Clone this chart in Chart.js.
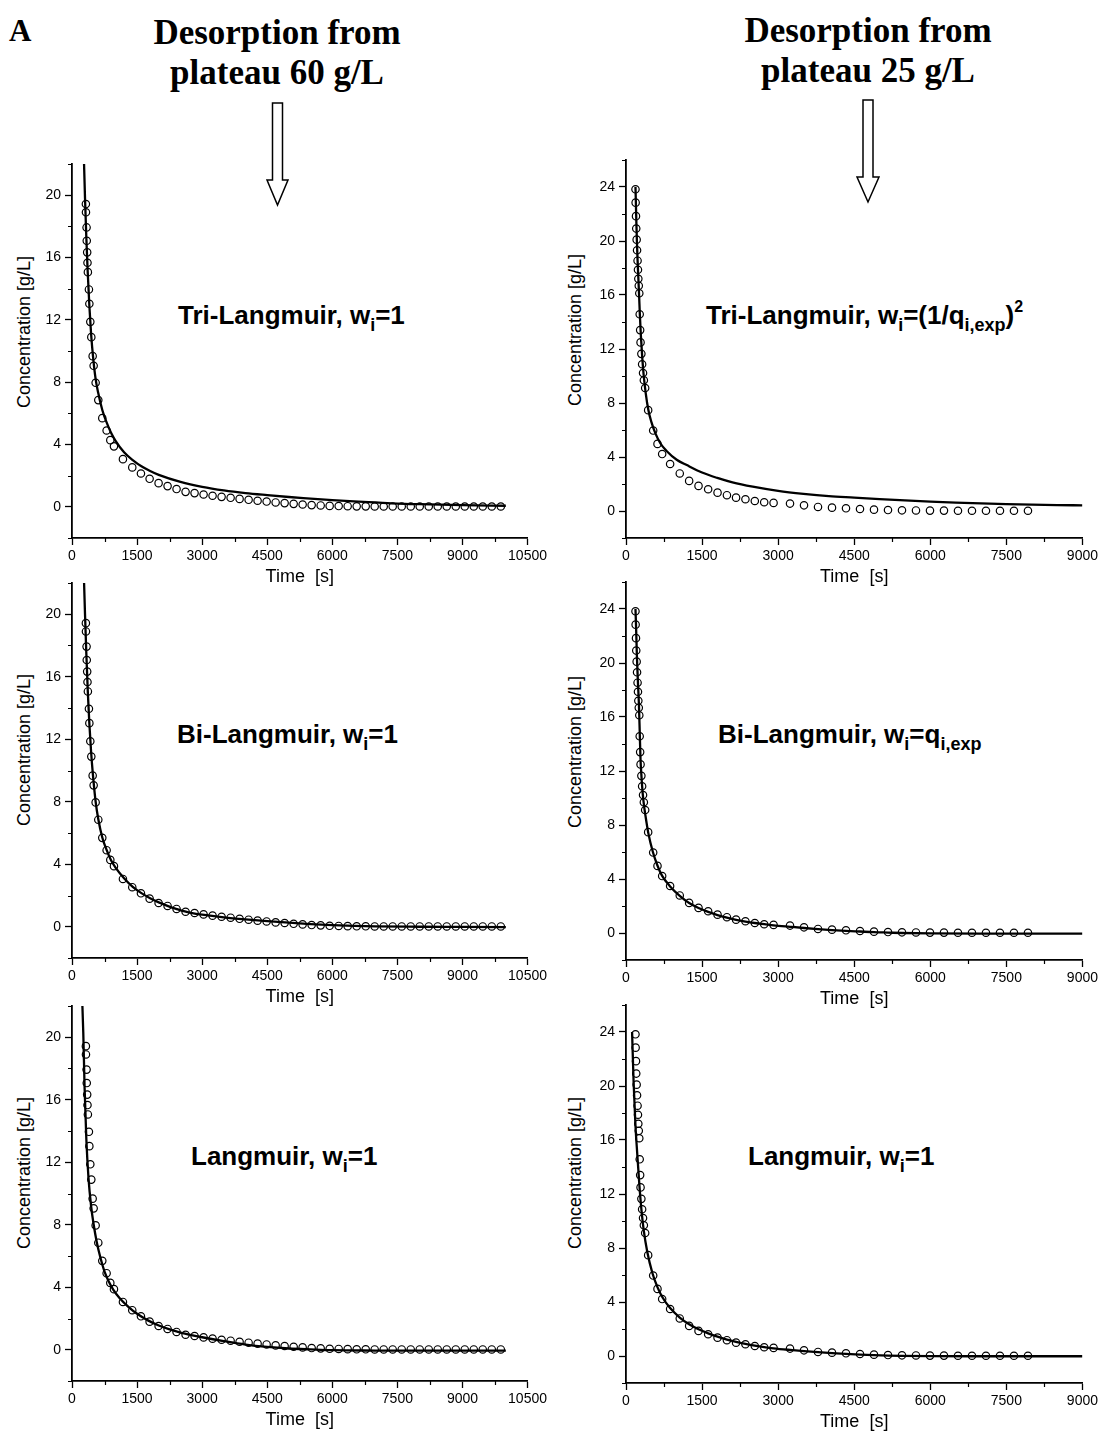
<!DOCTYPE html>
<html>
<head>
<meta charset="utf-8">
<script src="https://cdn.jsdelivr.net/npm/chart.js@4.4.1/dist/chart.umd.min.js"></script>
<style>
  body { margin: 0; width: 1101px; height: 1434px; background: #fff; position: relative; overflow: hidden;
         font-family: 'Liberation Sans', Arial, sans-serif; color: #000; }
  canvas { position: absolute; }
  .head { position: absolute; font-family: 'Liberation Serif', 'Times New Roman', serif; font-weight: bold;
          text-align: center; white-space: nowrap; }
  .fit { position: absolute; font-weight: bold; font-size: 26px; line-height: 26px; white-space: nowrap; }
  .fit sub { font-size: 18px; vertical-align: baseline; position: relative; top: 7px; }
  .fit sup { font-size: 16px; vertical-align: baseline; position: relative; top: -12px; }
  .ytitle { position: absolute; font-size: 18px; white-space: nowrap;
            transform: translate(-50%, -50%) rotate(-90deg); }
  svg { position: absolute; left: 0; top: 0; }
</style>
</head>
<body>

<div class="head" style="left:9px; top:15px; font-size:31px; line-height:31px;">A</div>
<div class="head" style="left:97px; width:360px; top:13px; font-size:35px; line-height:40px;">Desorption from<br>plateau 60 g/L</div>
<div class="head" style="left:688px; width:360px; top:11px; font-size:35px; line-height:40px;">Desorption from<br>plateau 25 g/L</div>

<svg width="1101" height="220">
  <polygon points="272.5,103 282.5,103 282.5,180 288,180 277.5,205 267,180 272.5,180" fill="#fff" stroke="#000" stroke-width="1.5"/>
  <polygon points="863,100 873,100 873,177 879,177 868,202 857,177 863,177" fill="#fff" stroke="#000" stroke-width="1.5"/>
</svg>

<div class="fit" style="left:178px; top:302px;">Tri-Langmuir, w<sub>i</sub>=1</div>
<div class="fit" style="left:706px; top:302px;">Tri-Langmuir, w<sub>i</sub>=(1/q<sub>i,exp</sub>)<sup>2</sup></div>
<div class="fit" style="left:177px; top:721px;">Bi-Langmuir, w<sub>i</sub>=1</div>
<div class="fit" style="left:718px; top:721px;">Bi-Langmuir, w<sub>i</sub>=q<sub>i,exp</sub></div>
<div class="fit" style="left:191px; top:1143px;">Langmuir, w<sub>i</sub>=1</div>
<div class="fit" style="left:748px; top:1143px;">Langmuir, w<sub>i</sub>=1</div>

<div class="ytitle" style="left:23.5px; top:332px;">Concentration  [g/L]</div>
<div class="ytitle" style="left:23.5px; top:750px;">Concentration  [g/L]</div>
<div class="ytitle" style="left:23.5px; top:1173px;">Concentration  [g/L]</div>
<div class="ytitle" style="left:575px; top:330px;">Concentration  [g/L]</div>
<div class="ytitle" style="left:575px; top:752px;">Concentration  [g/L]</div>
<div class="ytitle" style="left:575px; top:1173px;">Concentration  [g/L]</div>

<script>
// --- measured desorption profile, plateau 60 g/L (time s, concentration g/L)
const exp60Time = [320, 322, 336, 340, 350, 357, 366, 390, 400, 422, 445, 476, 499, 545, 606, 698, 798, 883, 967,
  1174, 1389, 1589, 1789, 1996, 2203, 2410, 2618, 2825, 3033, 3240, 3448, 3656, 3863, 4071, 4278, 4486, 4694,
  4901, 5109, 5316, 5524, 5732, 5939, 6147, 6354, 6562, 6770, 6977, 7185, 7392, 7600, 7808, 8015, 8223, 8430,
  8638, 8846, 9053, 9261, 9468, 9676, 9884];
const exp60Conc = [19.43, 18.9, 17.93, 17.07, 16.33, 15.66, 15.06, 13.95, 13.03, 11.87, 10.89, 9.67, 9.05, 7.96,
  6.85, 5.69, 4.9, 4.28, 3.88, 3.06, 2.53, 2.14, 1.8, 1.52, 1.33, 1.14, 0.96, 0.88, 0.79, 0.71, 0.64, 0.58, 0.51,
  0.45, 0.39, 0.34, 0.28, 0.24, 0.19, 0.15, 0.11, 0.09, 0.06, 0.05, 0.04, 0.03, 0.03, 0.02, 0.02, 0.02, 0.02,
  0.02, 0.02, 0.02, 0.02, 0.02, 0.02, 0.02, 0.02, 0.02, 0.02, 0.02];

// --- measured desorption profile, plateau 25 g/L
const exp25Time = [187, 190, 197, 202, 210, 218, 228, 236, 243, 252, 262, 270, 279, 287, 303, 318, 336, 352, 378,
  437, 536, 621, 713, 870, 1060, 1245, 1430, 1620, 1805, 1990, 2170, 2355, 2540, 2725, 2910, 3234, 3510, 3786,
  4062, 4338, 4614, 4890, 5166, 5442, 5718, 5994, 6270, 6546, 6822, 7098, 7374, 7650, 7926];
const exp25Conc = [23.83, 22.84, 21.84, 20.92, 20.1, 19.31, 18.54, 17.87, 17.2, 16.68, 16.13, 14.57, 13.4, 12.49,
  11.64, 10.87, 10.22, 9.68, 9.11, 7.47, 5.96, 4.97, 4.22, 3.48, 2.78, 2.23, 1.86, 1.61, 1.36, 1.17, 0.99, 0.87,
  0.74, 0.65, 0.6, 0.55, 0.42, 0.3, 0.25, 0.2, 0.15, 0.1, 0.07, 0.05, 0.04, 0.03, 0.03, 0.02, 0.02, 0.02, 0.02,
  0.02, 0.02];

// --- fitted isotherm curves, plateau 60 g/L
const tri60Time = [272, 300, 330, 360, 400, 440, 490, 545, 605, 700, 800, 900, 1000, 1200, 1400, 1600, 1800, 2000,
  2500, 3000, 3500, 4000, 4500, 5000, 5500, 6000, 6500, 7000, 7500, 8000, 9000, 10000];
const tri60Conc = [22.6, 19.8, 17.3, 15.2, 12.9, 11.1, 9.5, 8.2, 7.3, 6.2, 5.4, 4.75, 4.25, 3.5, 3.0, 2.6, 2.3, 2.05,
  1.6, 1.28, 1.05, 0.88, 0.75, 0.63, 0.53, 0.43, 0.35, 0.28, 0.21, 0.17, 0.11, 0.07];

const bi60Time = [272, 300, 330, 365, 400, 440, 480, 545, 605, 700, 800, 900, 1000, 1200, 1400, 1600, 1800, 2000,
  2200, 2400, 2600, 2800, 3000, 3500, 4000, 4500, 5000, 5500, 6000, 6500, 7000, 8000, 9000, 10000];
const bi60Conc = [22.6, 20, 17.5, 15, 13, 11.2, 9.8, 8.0, 6.9, 5.7, 4.9, 4.25, 3.8, 3.1, 2.55, 2.15, 1.83, 1.56,
  1.34, 1.15, 0.98, 0.86, 0.77, 0.6, 0.47, 0.36, 0.26, 0.17, 0.1, 0.05, 0.02, 0.0, -0.01, -0.02];

const lang60Time = [232, 260, 290, 330, 380, 440, 500, 570, 650, 750, 850, 950, 1100, 1300, 1500, 1750, 2000, 2250,
  2500, 2750, 3000, 3500, 4000, 4500, 5000, 5500, 6000, 7000, 8000, 9000, 10000];
const lang60Conc = [22.6, 20.3, 16.8, 13.5, 11, 9.2, 8.0, 6.9, 5.95, 5.0, 4.35, 3.85, 3.3, 2.75, 2.3, 1.88, 1.55,
  1.3, 1.1, 0.94, 0.8, 0.55, 0.33, 0.18, 0.08, 0.02, -0.03, -0.05, -0.06, -0.06, -0.06];

// --- fitted isotherm curves, plateau 25 g/L
const tri25Time = [187, 195, 205, 215, 228, 243, 258, 275, 295, 320, 350, 390, 440, 500, 580, 680, 800, 1000, 1200,
  1500, 1800, 2100, 2500, 3000, 3500, 4000, 4500, 5000, 5500, 6000, 6500, 7000, 7500, 8000, 8500, 9000];
const tri25Conc = [24.0, 22.8, 21.3, 20.0, 18.6, 17.3, 16.0, 14.4, 12.9, 11.4, 10.0, 8.7, 7.5, 6.6, 5.75, 5.0, 4.45,
  3.8, 3.4, 2.85, 2.45, 2.12, 1.8, 1.49, 1.27, 1.1, 0.99, 0.88, 0.78, 0.69, 0.62, 0.56, 0.51, 0.47, 0.44, 0.42];

const bi25Time = [187, 200, 215, 235, 255, 270, 285, 305, 330, 360, 400, 440, 530, 620, 710, 870, 1060, 1245, 1430,
  1620, 1805, 1990, 2170, 2355, 2540, 2725, 2910, 3234, 3510, 3786, 4062, 4338, 4614, 4890, 5166, 5442, 6000,
  7000, 8000, 9000];
const bi25Conc = [24, 22.5, 20.5, 18.6, 16.9, 15.0, 13.0, 11.6, 10.3, 9.3, 8.3, 7.4, 6.0, 5.0, 4.25, 3.45, 2.75,
  2.22, 1.85, 1.56, 1.33, 1.14, 0.98, 0.85, 0.74, 0.65, 0.57, 0.46, 0.37, 0.29, 0.22, 0.16, 0.11, 0.06, 0.03, 0.0,
  -0.03, -0.05, -0.05, -0.05];

const lang25Time = [120, 150, 185, 225, 265, 305, 350, 420, 520, 620, 718, 870, 1060, 1245, 1430, 1620, 1805, 1990,
  2170, 2355, 2540, 2725, 2910, 3234, 3510, 3786, 4062, 4338, 4614, 4890, 5166, 5442, 6000, 7000, 9000];
const lang25Conc = [24.0, 20.3, 17.2, 14.8, 12.6, 10.8, 9.3, 7.7, 6.15, 5.1, 4.35, 3.55, 2.85, 2.35, 1.98, 1.68,
  1.43, 1.22, 1.05, 0.9, 0.77, 0.66, 0.57, 0.45, 0.36, 0.28, 0.21, 0.15, 0.1, 0.06, 0.03, 0.01, -0.01, -0.02, -0.02];

// --- axis ticks
const xMajor60 = [0, 1500, 3000, 4500, 6000, 7500, 9000, 10500];
const xMinor60 = [750, 2250, 3750, 5250, 6750, 8250, 9750];
const yMajor60 = [0, 4, 8, 12, 16, 20];
const yMinor60 = [-2, 2, 6, 10, 14, 18, 22];
const xMajor25 = [0, 1500, 3000, 4500, 6000, 7500, 9000];
const xMinor25 = [750, 2250, 3750, 5250, 6750, 8250];
const yMajor25 = [0, 4, 8, 12, 16, 20, 24];
const yMinor25 = [-2, 2, 6, 10, 14, 18, 22, 26];

// short outward ticks between the labelled ones
const minorTicks = {
  id: 'minorTicks',
  afterDraw(chart, args, opts) {
    const { ctx, scales: { x, y } } = chart;
    ctx.save();
    ctx.strokeStyle = '#000';
    ctx.lineWidth = 1.2;
    ctx.beginPath();
    opts.x.forEach(v => {
      const px = Math.round(x.getPixelForValue(v)) + 0.5;
      ctx.moveTo(px, x.top);
      ctx.lineTo(px, x.top + 4);
    });
    opts.y.forEach(v => {
      const py = Math.round(y.getPixelForValue(v)) + 0.5;
      ctx.moveTo(y.right, py);
      ctx.lineTo(y.right - 4, py);
    });
    ctx.stroke();
    ctx.restore();
  }
};

const toPoints = (ts, cs) => ts.map((t, i) => ({ x: t, y: cs[i] }));

const col60 = { left: 0, w: 550, yAxisW: 72, padR: 22, xMax: 10500, yMax: 22,
  xMajor: xMajor60, xMinor: xMinor60, yMajor: yMajor60, yMinor: yMinor60, expT: exp60Time, expC: exp60Conc };
const col25 = { left: 550, w: 551, yAxisW: 76, padR: 18, xMax: 9000, yMax: 26,
  xMajor: xMajor25, xMinor: xMinor25, yMajor: yMajor25, yMinor: yMinor25, expT: exp25Time, expC: exp25Conc };

const panels = [
  { col: col60, top: 150, h: 438, fitT: tri60Time, fitC: tri60Conc },
  { col: col60, top: 569, h: 439, fitT: bi60Time, fitC: bi60Conc },
  { col: col60, top: 992, h: 439, fitT: lang60Time, fitC: lang60Conc },
  { col: col25, top: 146, h: 442, fitT: tri25Time, fitC: tri25Conc },
  { col: col25, top: 568, h: 442, fitT: bi25Time, fitC: bi25Conc },
  { col: col25, top: 991, h: 442, fitT: lang25Time, fitC: lang25Conc }
];

Chart.defaults.font.family = "'Liberation Sans', Arial, sans-serif";
Chart.defaults.color = '#000';

const axisStyle = {
  border: { color: '#000', width: 1.8 },
  grid: { drawOnChartArea: false, drawTicks: true, tickLength: 7, tickWidth: 1.3, tickColor: '#000' }
};

panels.forEach(p => {
  const c = p.col;
  const canvas = document.createElement('canvas');
  canvas.width = c.w;
  canvas.height = p.h;
  canvas.style.left = c.left + 'px';
  canvas.style.top = p.top + 'px';
  document.body.appendChild(canvas);

  new Chart(canvas, {
    type: 'scatter',
    data: {
      datasets: [
        {
          label: 'fit',
          data: toPoints(p.fitT, p.fitC),
          showLine: true,
          borderColor: '#000',
          borderWidth: 2.3,
          pointRadius: 0,
          cubicInterpolationMode: 'monotone',
          fill: false
        },
        {
          label: 'experiment',
          data: toPoints(c.expT, c.expC),
          pointStyle: 'circle',
          pointRadius: 3.7,
          borderWidth: 1.2,
          borderColor: '#000',
          backgroundColor: 'rgba(0,0,0,0)'
        }
      ]
    },
    options: {
      responsive: false,
      animation: false,
      events: [],
      layout: { padding: { left: 0, right: c.padR, top: 14, bottom: 0 } },
      plugins: {
        legend: { display: false },
        tooltip: { enabled: false },
        minorTicks: { x: c.xMinor, y: c.yMinor }
      },
      scales: {
        x: {
          type: 'linear',
          min: 0,
          max: c.xMax,
          afterBuildTicks: s => { s.ticks = c.xMajor.map(v => ({ value: v })); },
          afterFit: s => { s.height = 50; },
          ...axisStyle,
          ticks: { font: { size: 14 }, padding: 3, maxRotation: 0, autoSkip: false, callback: v => String(v) },
          title: { display: true, text: 'Time  [s]', font: { size: 18 }, padding: 0 }
        },
        y: {
          type: 'linear',
          min: -2,
          max: c.yMax,
          afterBuildTicks: s => { s.ticks = c.yMajor.map(v => ({ value: v })); },
          afterFit: s => { s.width = c.yAxisW; },
          ...axisStyle,
          ticks: { font: { size: 14 }, padding: 4, autoSkip: false, callback: v => String(v) }
        }
      }
    },
    plugins: [minorTicks]
  });
});
</script>
</body>
</html>
